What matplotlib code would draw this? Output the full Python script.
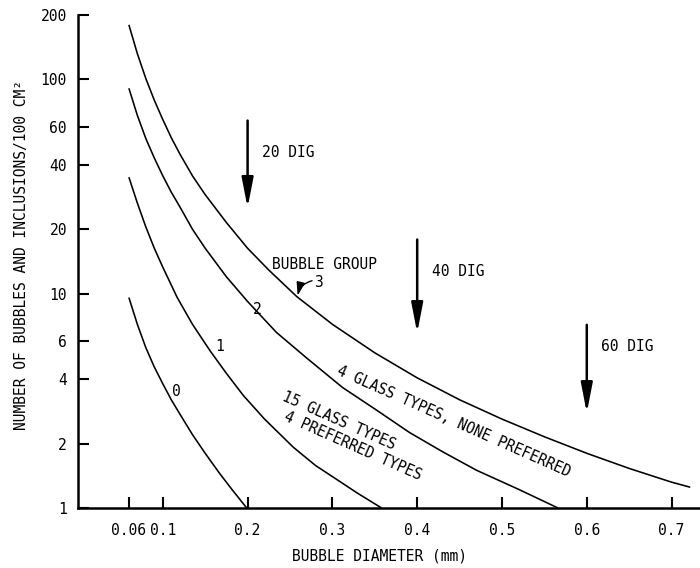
import matplotlib
matplotlib.use("Agg")
import matplotlib.pyplot as plt

FONT = "DejaVu Sans Mono"

# Bubble group curves (x = bubble diameter mm, y = count per 100 cm^2)
g0_x = [0.06, 0.07, 0.08, 0.09, 0.10, 0.11, 0.12, 0.135, 0.15, 0.167, 0.183, 0.199]
g0_y = [9.6, 7.2, 5.6, 4.55, 3.8, 3.2, 2.75, 2.2, 1.8, 1.45, 1.2, 1.0]

g1_x = [0.06, 0.07, 0.08, 0.09, 0.10, 0.117, 0.135, 0.156, 0.175, 0.195, 0.22, 0.254,
        0.28, 0.305, 0.33, 0.358]
g1_y = [35.0, 26.5, 20.5, 16.3, 13.3, 9.6, 7.2, 5.4, 4.25, 3.35, 2.6, 1.92,
        1.58, 1.36, 1.17, 1.0]

g2_x = [0.06, 0.07, 0.08, 0.09, 0.10, 0.11, 0.12, 0.135, 0.15, 0.175, 0.20, 0.234,
        0.27, 0.312, 0.35, 0.391, 0.43, 0.47, 0.52, 0.566]
g2_y = [91.0, 68.0, 53.0, 43.0, 35.5, 29.8, 25.5, 20.0, 16.3, 12.0, 9.2, 6.6,
        5.0, 3.65, 2.9, 2.25, 1.83, 1.5, 1.22, 1.0]

g3_x = [0.06, 0.07, 0.08, 0.09, 0.10, 0.11, 0.12, 0.135, 0.15, 0.175, 0.20, 0.225,
        0.258, 0.30, 0.35, 0.40, 0.45, 0.50, 0.55, 0.60, 0.65, 0.70, 0.722]
g3_y = [180.0, 132.0, 101.0, 80.0, 65.0, 53.5, 45.0, 35.5, 29.0, 21.5, 16.3, 12.9,
        9.7, 7.2, 5.3, 4.05, 3.2, 2.6, 2.15, 1.8, 1.53, 1.32, 1.25]

x_ticks = [0.06, 0.1, 0.2, 0.3, 0.4, 0.5, 0.6, 0.7]
x_tick_labels = ["0.06", "0.1", "0.2", "0.3", "0.4", "0.5", "0.6", "0.7"]
y_ticks = [1, 2, 4, 6, 10, 20, 40, 60, 100, 200]
y_tick_labels = ["1", "2", "4", "6", "10", "20", "40", "60", "100", "200"]

# DIG arrows: x, top y, tip y, label y
dig_labels = ["20 DIG", "40 DIG", "60 DIG"]
dig_x = [0.2, 0.4, 0.6]
dig_top = [64.3, 17.9, 7.16]
dig_tip = [25.2, 6.57, 2.78]
dig_text_y = [45.6, 12.7, 5.65]

fig = plt.figure(figsize=(7.0, 5.68), dpi=100)
ax = fig.add_axes([78 / 700, 60 / 568, 622 / 700, 493 / 568])

for xs, ys in [(g0_x, g0_y), (g1_x, g1_y), (g2_x, g2_y), (g3_x, g3_y)]:
    ax.plot(xs, ys, color="black", lw=1.15, solid_capstyle="butt", solid_joinstyle="round")

ax.set_yscale("log")
ax.set_xlim(0.0, 0.7335)
ax.set_ylim(1, 200)
ax.set_xticks(x_ticks)
ax.set_xticklabels(x_tick_labels, family=FONT, fontsize=10.5)
ax.set_yticks(y_ticks)
ax.set_yticklabels(y_tick_labels, family=FONT, fontsize=10.5)
ax.yaxis.set_minor_locator(matplotlib.ticker.NullLocator())
ax.tick_params(axis="both", direction="in", length=8, width=1.5, color="black")
ax.tick_params(axis="x", pad=11)
ax.tick_params(axis="y", pad=8)
for s in ["top", "right"]:
    ax.spines[s].set_visible(False)
for s in ["left", "bottom"]:
    ax.spines[s].set_linewidth(1.8)

# DIG arrows
for lab, xv, yt, yb, ty in zip(dig_labels, dig_x, dig_top, dig_tip, dig_text_y):
    ax.annotate("", xy=(xv, yb), xytext=(xv, yt),
                arrowprops=dict(arrowstyle="-|>,head_length=1.8,head_width=0.35",
                                lw=1.8, color="black", shrinkA=0, shrinkB=0,
                                mutation_scale=10))
    ax.text(xv + 0.017, ty, lab, family=FONT, fontsize=10.5, ha="left", va="center")

# Curve labels
ax.text(0.1156, 3.48, "0", family=FONT, fontsize=10.5, ha="center", va="center")
ax.text(0.1675, 5.65, "1", family=FONT, fontsize=10.5, ha="center", va="center")
ax.text(0.211, 8.42, "2", family=FONT, fontsize=10.5, ha="center", va="center")
ax.text(0.291, 13.7, "BUBBLE GROUP", family=FONT, fontsize=10.5, ha="center", va="center")
ax.text(0.283, 11.3, "3", family=FONT, fontsize=10.5, ha="center", va="center")
ax.annotate("", xy=(0.259, 9.8), xytext=(0.276, 11.5),
            arrowprops=dict(arrowstyle="-|>,head_length=0.8,head_width=0.25",
                            lw=1.0, color="black", shrinkA=0, shrinkB=0,
                            connectionstyle="arc3,rad=0.3", mutation_scale=10))

ax.text(0.4428, 2.54, "4 GLASS TYPES, NONE PREFERRED", family=FONT, fontsize=10.5,
        ha="center", va="center", rotation=-23.9, rotation_mode="anchor")
ax.text(0.3078, 2.55, "15 GLASS TYPES", family=FONT, fontsize=10.5,
        ha="center", va="center", rotation=-24.0, rotation_mode="anchor")
ax.text(0.3237, 1.95, "4 PREFERRED TYPES", family=FONT, fontsize=10.5,
        ha="center", va="center", rotation=-23.9, rotation_mode="anchor")

fig.text(380 / 700, 1 - 556 / 568, "BUBBLE DIAMETER (mm)", family=FONT, fontsize=10.5,
         ha="center", va="center")
fig.text(22 / 700, 1 - 255 / 568, "NUMBER OF BUBBLES AND INCLUSIONS/100 CM²", family=FONT,
         fontsize=10.5, ha="center", va="center", rotation=90)

fig.savefig("out.png", dpi=100)
